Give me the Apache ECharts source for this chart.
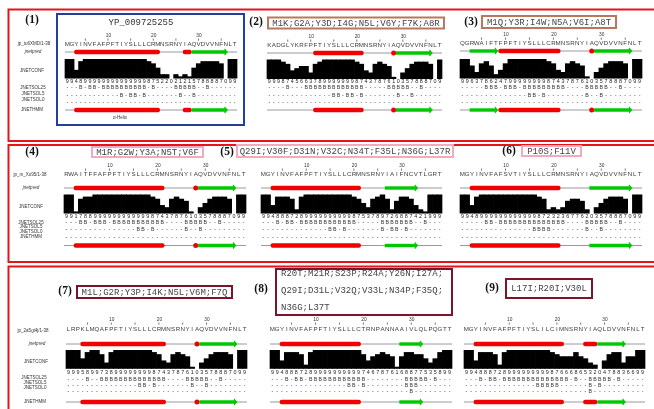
<!DOCTYPE html>
<html>
<head>
<meta charset="utf-8">
<script src="https://cdn.jsdelivr.net/npm/echarts@6/dist/echarts.min.js"></script>
<style>
  html, body { margin: 0; padding: 0; background: #fff; }
  #chart { width: 654px; height: 409px; }
</style>
</head>
<body>
<div id="chart"></div>
<script>
// ---- data: JNet secondary-structure predictions for nine 38-residue constructs ----
const refName = 'YP_009725255';
const sequences = [
  'MGYINVFAFPFTIYSLLLCRMNSRNYIAQVDVVNFNLT',
  'KADGLYKRFPFTIYSLLLCRMNSRNYIAQVDVVNFNLT',
  'QGRWAIFTFPFTIYSLLLCRMNSRNYIAQVDVVNFNLT',
  'RWAITFFAFPFTIYSLLLCRMNSRNYIAQVDVVNFNLT',
  'MGYINVFAFPFTIYSLLLCRMNSRNYIAIFNCVTLGRT',
  'MGYINVFAFSVTIYSLLLCRMNSRNYIAQVDVVNFNLT',
  'LRPKLMQAFPFTIYSLLLCRMNSRNYIAQVDVVNFNLT',
  'MGYINVFAFPFTIYSLLLCTRNPANNAAIVLQLPQGTT',
  'MGYINVFAFPFTIYSLILCIMNSRNYIAQLDVVNFNLT'
];
const mutations = [
  '',
  'M1K;G2A;Y3D;I4G;N5L;V6Y;F7K;A8R',
  'M1Q;Y3R;I4W;N5A;V6I;A8T',
  'M1R;G2W;Y3A;N5T;V6F',
  'Q29I;V30F;D31N;V32C;N34T;F35L;N36G;L37R',
  'P10S;F11V',
  'M1L;G2R;Y3P;I4K;N5L;V6M;F7Q',
  'R20T;M21R;S23P;R24A;Y26N;I27A;Q29I;D31L;V32Q;V33L;N34P;F35Q;N36G;L37T',
  'L17I;R20I;V30L'
];
const panelTags = ['(1)', '(2)', '(3)', '(4)', '(5)', '(6)', '(7)', '(8)', '(9)'];
const jnetpred = [
  '--HHHHHHHHHHHHHHHHHHH-----HHEEEEEEEE--',
  '----------HHHHHHHHHHH------HEEEEEEEE--',
  '--EEEEEEHHHHHHHHHHHHH------HEEEEEEEE--',
  '--HHHHHHHHHHHHHHHHHHH------HEEEEEEEE--',
  '--HHHHHHHHHHHHHHHHHHH-----EEEEEEE-----',
  '--HHHHHHHHHHHHHHHHHHH------EEEEEEEEE--',
  '---HHHHHHHHHHHHHHHHHH------HEEEEEEEE--',
  '--HHHHHHHHHHHHHHHHH--------EEEEE------',
  '--HHHHHHHHHHHHHHHHHHH----HHHEEEEEE----'
];
const jnetconf = [
  '99489999999999999987522021215788887099',
  '99987456637899999998743787610357888709',
  '99637862479999999987437876103578887099',
  '99178899999999999987437876103578887099',
  '99488872899999999998753789726887421999',
  '99489999999999998723236776203578887099',
  '99958997389999999987437876103578887099',
  '99488872899999999997467876168877535899',
  '99488872899999999987666865320478836699'
];
const jnetsol25 = [
  '---B-BB-BBBBBBBBBB-B----BBBBB--B------',
  '----B---BBBBBBBBBBBBB-----BBBBB--B----',
  '-----BBB-BBB-BBBBBBBBB----BBBBB--B----',
  '---BB-BBB-BBBBBBBBBBB----BBBBB--B-----',
  '---B-BB-BBBBBBBBBBBB-----BBBBBBB--B---',
  '-----BB-BBBBBBBBBBBBBB----BBBBB--B----',
  '----B--BBBBBBBBBBBBBB----BBBBB--B-----',
  '---B-BB-BBBBBBBBBBBB--------BBBBB-B---',
  '---B-BB-BBBBBBBBBBBBBB-B--BBBBB-B-----'
];
const jnetsol5 = [
  '------------B-BB-B-------B--B---------',
  '--------------BB-BB-B-------B--B------',
  '--------------BB-B--------B--B--------',
  '---------------BB-B------B--B---------',
  '--------------BB-B-------B-BB-B-------',
  '---------------BBBB-------B--B--------',
  '---------------BB-B-------B--B--------',
  '----------------BB-B--------BBB-------',
  '---------------BBBBB------B-B---------'
];
const jnetsol0 = [
  '--------------------------------------',
  '--------------------------------------',
  '--------------------------------------',
  '--------------------------------------',
  '--------------------------------------',
  '--------------------------------------',
  '--------------------------------------',
  '-----------------------------B--------',
  '--------------------------B-----------'
];
const jnethmm = [
  '--HHHHHHHHHHHHHHHHHHH-----HHEEEEEEEE--',
  '----------HHHHHHHHHHH------HEEEEEEEE--',
  '--EEEEEEHHHHHHHHHHHHH------HEEEEEEEE--',
  '--HHHHHHHHHHHHHHHHHHH------HEEEEEEEE--',
  '--HHHHHHHHHHHHHHHHHHH-----EEEEEEE-----',
  '--HHHHHHHHHHHHHHHHHHH------EEEEEEEEE--',
  '---HHHHHHHHHHHHHHHHHH------HEEEEEEEE--',
  '--HHHHHHHHHHHHHHHHH--------EEEEE------',
  '--HHHHHHHHHHHHHHHHHHH----HHHEEEEEE----'
];
const rulerNumbers = [10, 20, 30];
const rulerTicks = [5, 10, 15, 20, 25, 30, 35];
const seqIds = ['jp_tu6XMD/1-38', 'jp_m_Xo95/1-38', 'jp_2a5gi4j/1-38'];
const trackNames = ['jnetpred', 'JNETCONF', 'JNETSOL25', 'JNETSOL5', 'JNETSOL0', 'JNETHMM'];
const helixNote = '\u03b1-Helix';

// ---- layout ----
const H = 409;
const N = 38;
const panelX = [[65, 237], [267, 442], [460, 642], [64, 246], [261, 442], [460, 642], [66, 247], [270, 452], [464, 645]];
const panelDy = [0, 1, -1, 0, 0, 0, 0, 0, 0];
const rowY = [
  { num: 36, seq: 44, pred: 52, barTop: 59, barBot: 78.5, dig: 81.5, s25: 88, s5: 95.5, s0: 102.5, hmm: 110 },
  { num: 166, seq: 174, pred: 188, barTop: 194.5, barBot: 213.5, dig: 217, s25: 223, s5: 230, s0: 237.5, hmm: 245.5 },
  { num: 320, seq: 329.5, pred: 344, barTop: 350, barBot: 368.8, dig: 373, s25: 379.5, s5: 385.5, s0: 391.5, hmm: 402 }
];
const labelPos = [
  { x: [34, 33, 32, 33, 33, 33, 32], y: [43.5, 52, 71, 88, 94, 100, 110] },
  { x: [30, 31, 31, 31, 31, 31, 31], y: [175, 188, 206.5, 222.5, 227, 231.5, 236.5] },
  { x: [33, 37, 36, 34, 35, 35, 35], y: [330.5, 344, 362, 378, 383, 388, 402] }
];
const tagPos = [[32, 20], [256, 22.5], [471, 22], [32, 152], [227, 152], [509, 151], [65, 291], [261, 289], [492, 288]];
const boxRects = [null, [268, 17.5, 176, 11], [482, 16, 134, 12], [92, 147, 111, 10], [237, 145, 216, 12],
  [522, 146, 59, 10], [77, 286, 155, 12], [276, 269, 176, 46], [506, 279, 86, 19]];
const boxColors = [null, '#b9775e', '#b9775e', '#f5a9bd', '#f5a9bd', '#f5a9bd', '#7c1529', '#7c1529', '#7c1529'];
const captionLines = { 7: [6, 12] };   // break points (mutation counts) for the three-line caption

const C = {
  red: '#f20000', green: '#00c800', base: '#9a9a9a', frame: '#e5141b', blue: '#233f9e',
  seqFont: '6.2px "Liberation Sans", Arial, sans-serif',
  digFont: '5.4px "Liberation Sans", Arial, sans-serif',
  solFont: '5.2px "Liberation Sans", Arial, sans-serif',
  numFont: '4.8px "Liberation Sans", Arial, sans-serif',
  labFont: '4.5px "Liberation Sans", Arial, sans-serif',
  monoFont: '9px "Liberation Mono", "Courier New", monospace',
  tagFont: 'bold 11.5px "Liberation Serif", "Times New Roman", serif'
};

const cats = Array.from({ length: N }, (_, i) => String(i + 1));
const grids = [], xAxes = [], yAxes = [], series = [];

function runsOf(str) {
  const out = [];
  let i = 0;
  while (i < str.length) {
    const c = str[i];
    let j = i;
    while (j + 1 < str.length && str[j + 1] === c) j++;
    if (c !== '-') out.push({ kind: c, s: i, e: j });
    i = j + 1;
  }
  return out;
}

function textEl(x, y, text, font, fill) {
  return {
    type: 'text',
    style: { text, x, y, font, fill, align: 'center', verticalAlign: 'middle', textAlign: 'center', textVerticalAlign: 'middle' }
  };
}

for (let p = 0; p < 9; p++) {
  const r = rowY[Math.floor(p / 3)];
  const dy = panelDy[p];
  const [x0, x1] = panelX[p];
  const gTrack = grids.length;
  grids.push({ left: x0, width: x1 - x0, top: 0, height: H });
  xAxes.push({ type: 'category', gridIndex: gTrack, data: cats, show: false });
  yAxes.push({ type: 'value', gridIndex: gTrack, min: 0, max: H, inverse: true, show: false });
  const gBar = grids.length;
  grids.push({ left: x0, width: x1 - x0, top: r.barTop + (p === 1 ? 0.5 : 0), height: r.barBot - r.barTop });
  xAxes.push({ type: 'category', gridIndex: gBar, data: cats, show: false });
  yAxes.push({ type: 'value', gridIndex: gBar, min: 0, max: 9, show: false });

  // JNETCONF histogram: one column per residue, columns butt against each other
  series.push({
    type: 'custom', xAxisIndex: gBar, yAxisIndex: gBar,
    data: jnetconf[p].split('').map((d, i) => [i, Number(d)]),
    silent: true,
    renderItem: (params, api) => {
      const band = api.size([1, 0])[0];
      const top = api.coord([api.value(0), api.value(1)]);
      const base = api.coord([api.value(0), 0]);
      return {
        type: 'rect',
        shape: { x: top[0] - band / 2 - 0.35, y: top[1], width: band + 0.7, height: base[1] - top[1] },
        style: { fill: '#000' }
      };
    }
  });

  // per-residue character rows
  const cells = [], glyphs = [];
  const addRow = (str, y, font, fill) => {
    str.split('').forEach((ch, i) => { cells.push([i, y]); glyphs.push({ ch, font, fill }); });
  };
  addRow(sequences[p], r.seq + dy, C.seqFont, '#3c3c3c');
  addRow(jnetconf[p], r.dig, C.digFont, '#222');
  addRow(jnetsol25[p], r.s25, C.solFont, '#333');
  addRow(jnetsol5[p], r.s5, C.solFont, '#333');
  addRow(jnetsol0[p], r.s0, C.solFont, '#333');
  series.push({
    type: 'custom', xAxisIndex: gTrack, yAxisIndex: gTrack, data: cells, silent: true,
    renderItem: (params, api) => {
      const pt = api.coord([api.value(0), api.value(1)]);
      const g = glyphs[params.dataIndex];
      return textEl(pt[0], pt[1], g.ch, g.font, g.fill);
    }
  });

  // ruler above the sequence
  const rulerItems = [], rulerKinds = [];
  rulerNumbers.forEach(n => { rulerItems.push([n - 1, r.num + dy]); rulerKinds.push(String(n)); });
  rulerTicks.forEach(n => { rulerItems.push([n - 1, r.num + dy + 3.6]); rulerKinds.push('|'); });
  series.push({
    type: 'custom', xAxisIndex: gTrack, yAxisIndex: gTrack, data: rulerItems, silent: true,
    renderItem: (params, api) => {
      const pt = api.coord([api.value(0), api.value(1)]);
      const k = rulerKinds[params.dataIndex];
      if (k === '|') {
        return { type: 'line', shape: { x1: pt[0], y1: pt[1] - 1.1, x2: pt[0], y2: pt[1] + 1.1 }, style: { stroke: '#555', lineWidth: 0.8 } };
      }
      return textEl(pt[0] + 0.5, pt[1], k, C.numFont, '#333');
    }
  });

  // secondary-structure tracks (jnetpred and JNETHMM)
  const ssItems = [], ssMeta = [];
  [[jnetpred[p], r.pred + dy], [jnethmm[p], r.hmm]].forEach(([str, y]) => {
    ssItems.push([0, N - 1, y]); ssMeta.push({ kind: 'base', len: N });
    runsOf(str).forEach(run => { ssItems.push([run.s, run.e, y]); ssMeta.push({ kind: run.kind, len: run.e - run.s + 1 }); });
  });
  series.push({
    type: 'custom', xAxisIndex: gTrack, yAxisIndex: gTrack, data: ssItems, silent: true,
    encode: { x: [0, 1], y: 2 },
    renderItem: (params, api) => {
      const band = api.size([1, 0])[0];
      const a = api.coord([api.value(0), api.value(2)]);
      const b = api.coord([api.value(1), api.value(2)]);
      const xs = a[0] - band / 2, xe = b[0] + band / 2, y = a[1];
      const m = ssMeta[params.dataIndex];
      if (m.kind === 'base') {
        return { type: 'line', shape: { x1: xs, y1: y, x2: xe, y2: y }, style: { stroke: C.base, lineWidth: 1 } };
      }
      if (m.kind === 'H') {
        if (m.len === 1) {
          return { type: 'circle', shape: { cx: (xs + xe) / 2, cy: y, r: 2.5 }, style: { fill: C.red } };
        }
        return { type: 'rect', shape: { x: xs, y: y - 2.2, width: xe - xs, height: 4.4, r: 2.2 }, style: { fill: C.red } };
      }
      const head = 3;
      return {
        type: 'group',
        children: [
          { type: 'rect', shape: { x: xs, y: y - 1.7, width: Math.max(0, xe - xs - head), height: 3.4 }, style: { fill: C.green } },
          { type: 'polygon', shape: { points: [[xe - head, y - 3.2], [xe, y], [xe - head, y + 3.2]] }, style: { fill: C.green } },
          { type: 'line', shape: { x1: xe - head, y1: y - 3.2, x2: xe - head, y2: y + 3.2 }, style: { stroke: C.green, lineWidth: 1 } }
        ]
      };
    }
  });
}

// ---- frames, captions and row labels ----
const graphics = [];
const rectG = (x, y, w, h, stroke, lw) => ({ type: 'rect', shape: { x, y, width: w, height: h }, style: { fill: 'none', stroke, lineWidth: lw }, z: 1 });
const textG = (x, y, text, font, fill, align) => ({
  type: 'text', x, y,
  style: { text, font, fill, align: align || 'center', verticalAlign: 'middle', textAlign: align || 'center', textVerticalAlign: 'middle' },
  z: 5
});

graphics.push(rectG(8.5, 9.5, 700, 131.5, C.frame, 2));
graphics.push(rectG(8.5, 145, 700, 117, C.frame, 2));
graphics.push(rectG(8.5, 266.5, 700, 200, C.frame, 2));
graphics.push(rectG(57, 14, 187, 111, C.blue, 2));
graphics.push(textG(141, 23, refName, C.monoFont, '#333'));
graphics.push(textG(120, 117.5, helixNote, C.labFont, '#333'));

for (let p = 0; p < 9; p++) {
  graphics.push(textG(tagPos[p][0], tagPos[p][1], panelTags[p], C.tagFont, '#111'));
  if (!boxRects[p]) continue;
  const [bx, by, bw, bh] = boxRects[p];
  graphics.push(rectG(bx, by, bw, bh, boxColors[p], 2));
  if (captionLines[p]) {
    const parts = mutations[p].split(';');
    const cuts = [0].concat(captionLines[p], [parts.length]);
    const lineYs = [274, 290.5, 308];
    for (let k = 0; k < cuts.length - 1; k++) {
      const seg = parts.slice(cuts[k], cuts[k + 1]).join(';') + (k < cuts.length - 2 ? ';' : '');
      graphics.push(textG(bx + 5, lineYs[k], seg, C.monoFont, '#444', 'left'));
    }
  } else {
    graphics.push(textG(bx + bw / 2, by + bh / 2 + 0.5, mutations[p], C.monoFont, '#444'));
  }
}

for (let row = 0; row < 3; row++) {
  const names = [seqIds[row]].concat(trackNames);
  const lp = labelPos[row];
  names.forEach((t, k) => {
    const font = k === 1 ? 'italic ' + C.labFont : C.labFont;
    graphics.push(textG(lp.x[k], lp.y[k], t, font, '#333'));
  });
}

const chart = echarts.init(document.getElementById('chart'), null, { renderer: 'canvas' });
chart.setOption({
  animation: false,
  backgroundColor: '#fff',
  grid: grids,
  xAxis: xAxes,
  yAxis: yAxes,
  series: series,
  graphic: { elements: graphics }
});
</script>
</body>
</html>
